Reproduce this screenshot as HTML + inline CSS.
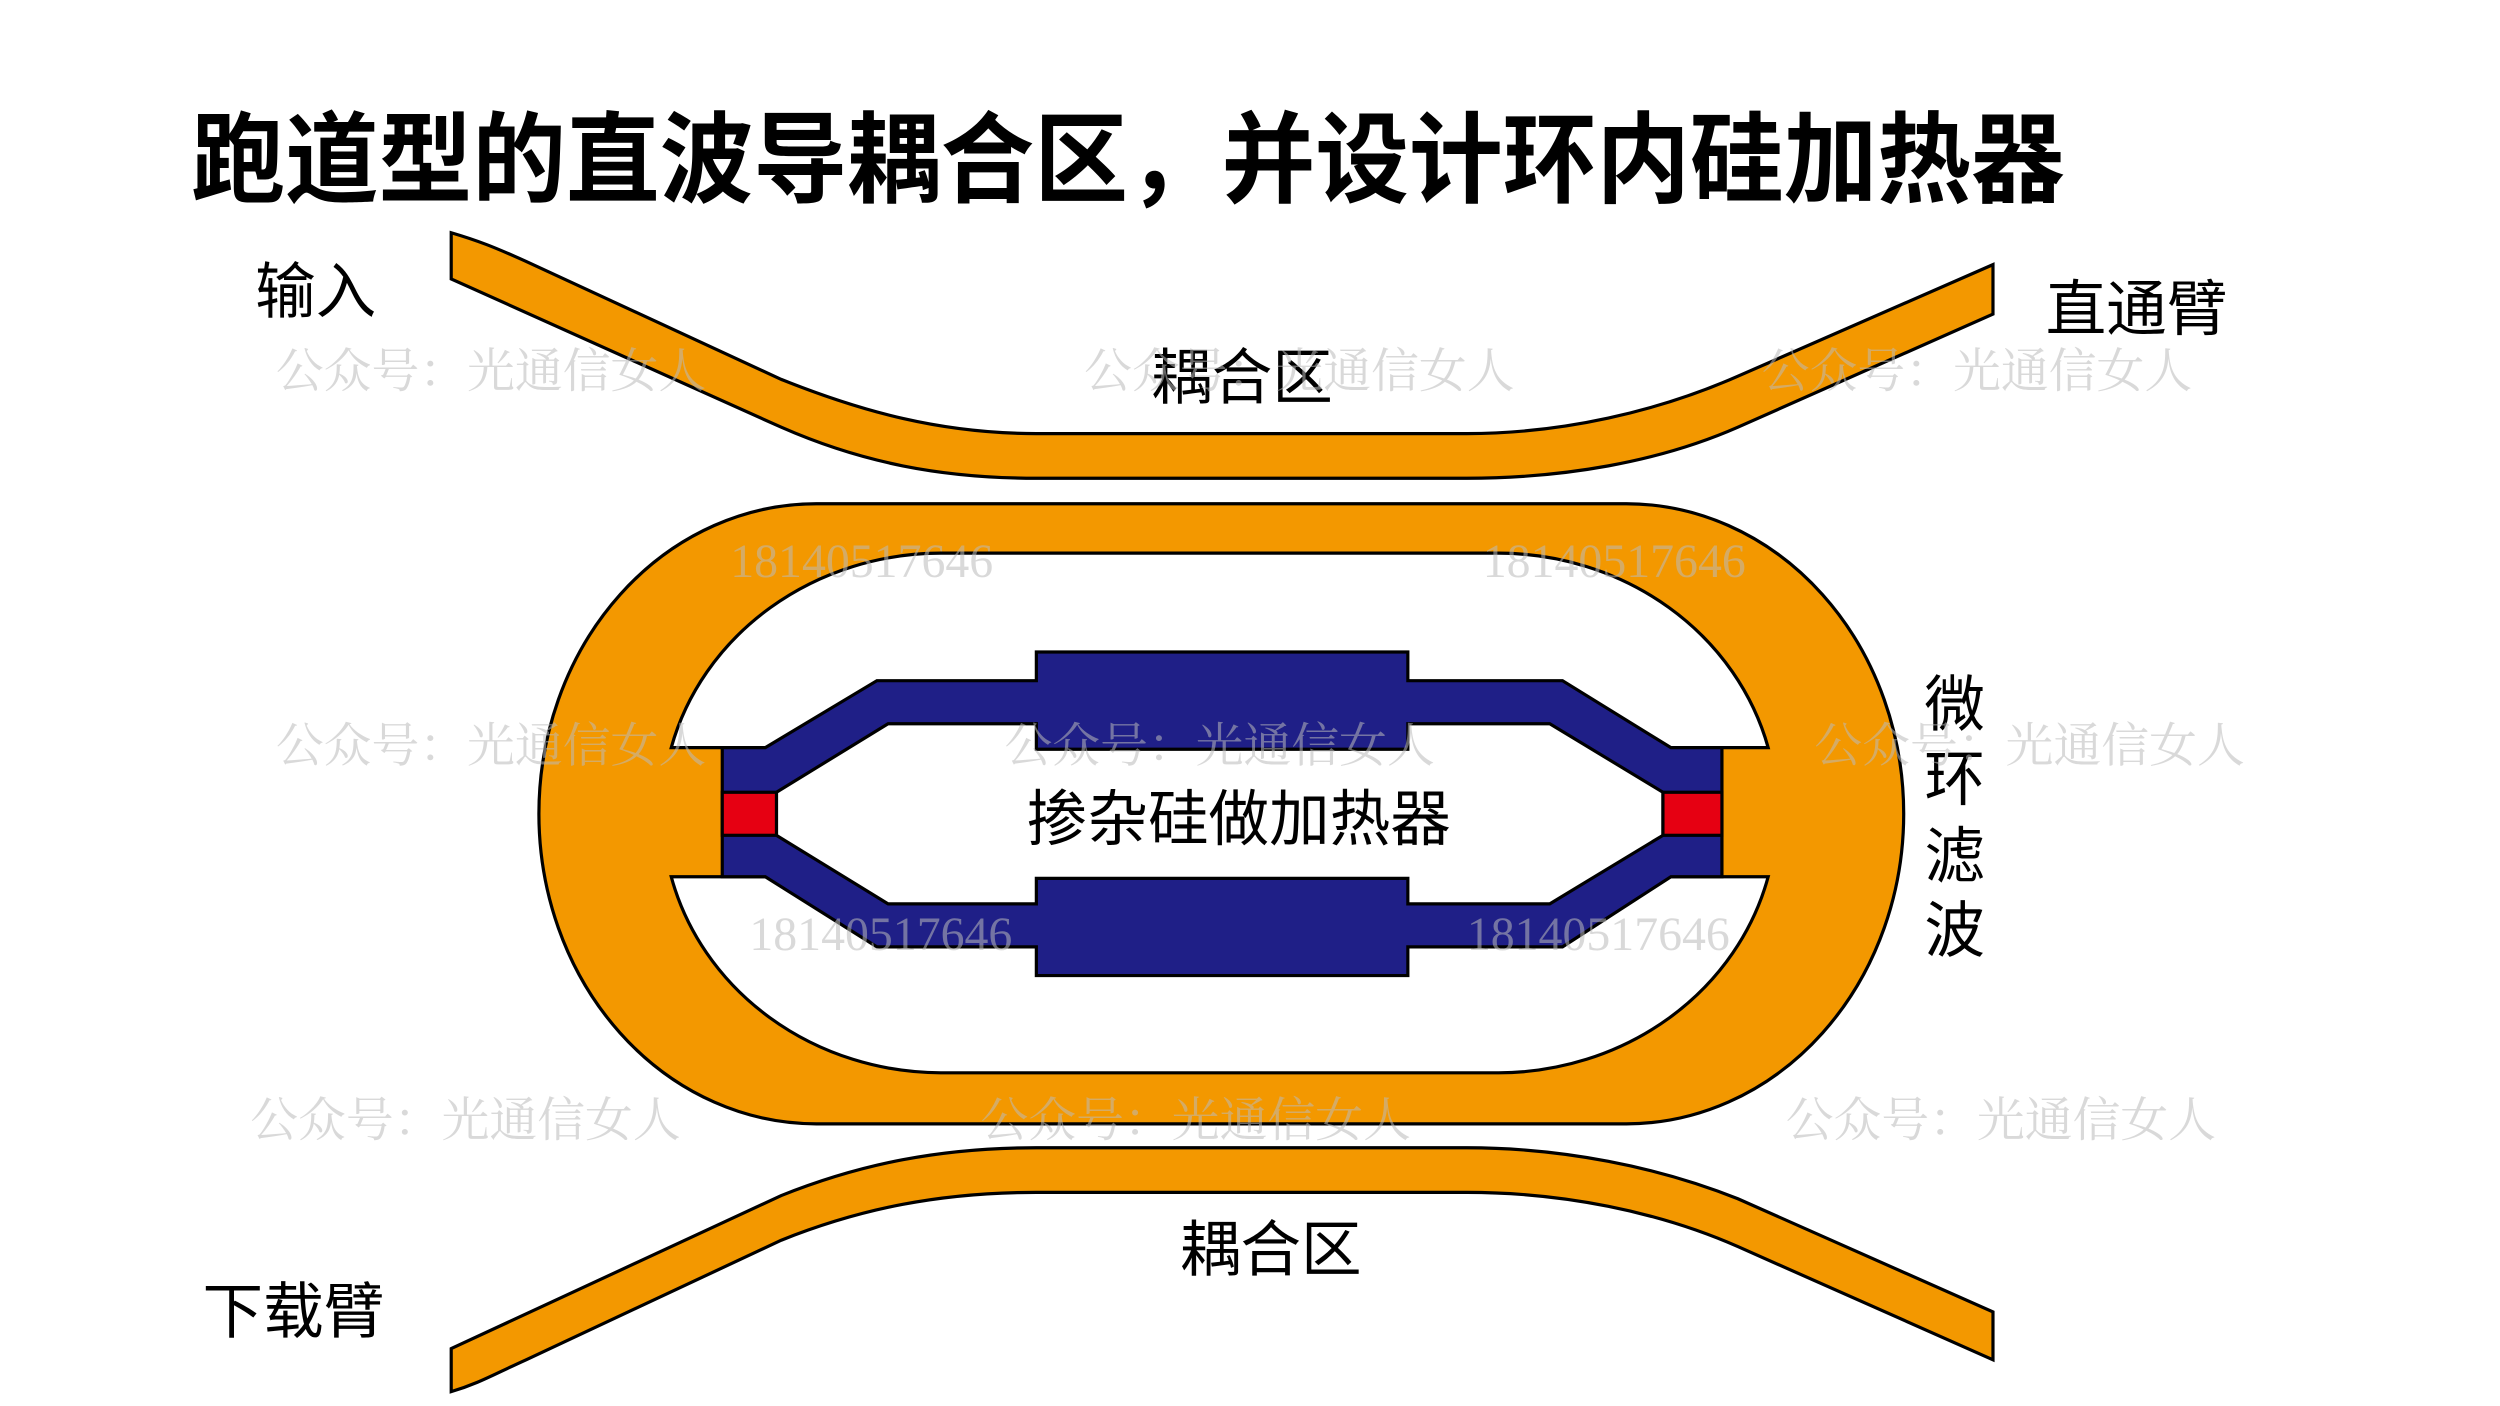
<!DOCTYPE html>
<html><head><meta charset="utf-8"><style>
html,body{margin:0;padding:0;background:#fff;}
svg{display:block;}
text{font-family:"Liberation Sans","Noto Sans CJK SC",sans-serif;}
.wm{font-family:"Liberation Serif","Noto Serif CJK SC",serif;fill:#bbb;opacity:0.55;font-size:30px;}
</style></head><body>
<svg width="2500" height="1406" viewBox="0 0 1568 882" preserveAspectRatio="none" xmlns="http://www.w3.org/2000/svg">
<rect width="1568" height="882" fill="#fff"/>
<text x="120" y="122" font-size="62" font-weight="bold" fill="#000" textLength="1175" lengthAdjust="spacingAndGlyphs">跑道型的直波导耦合区，并设计环内硅加热器</text>

<path d="M283,146 C300,151 310,155 330,164 L490,238 C540,258 590,272 650,272 L920,272 C980,272 1040,258 1090,236 L1250,166 L1250,197 L1090,268 C1040,290 980,300 920,300 L650,300 C590,300 540,290 490,268 L283,175 Z" fill="#F39800" stroke="#000" stroke-width="2"/>
<path d="M283,846 L490,750 C540,730 590,720 650,720 L920,720 C980,720 1040,732 1090,752 L1250,823 L1250,853 L1090,782 C1040,760 980,748 920,748 L650,748 C590,748 540,758 490,778 L330,853 C310,862 300,868 283,873 Z" fill="#F39800" stroke="#000" stroke-width="2"/>

<path d="M512,316 L1020,316 A174,194.5 0 0 1 1020,705 L512,705 A174,194.5 0 0 1 512,316 Z" fill="#F39800" stroke="#000" stroke-width="2"/>
<path d="M421,469 A175,163 0 0 1 590,347 L940,347 A175,163 0 0 1 1109,469 Z" fill="#fff" stroke="#000" stroke-width="2"/>
<path d="M421,550 A175,163 0 0 0 590,673 L940,673 A175,163 0 0 0 1109,550 Z" fill="#fff" stroke="#000" stroke-width="2"/>

<path d="M453,469 L480,469 L550,427 L650,427 L650,409 L883,409 L883,427 L980,427 L1048,469 L1080,469 L1080,550 L1048,550 L980,594 L883,594 L883,612 L650,612 L650,594 L550,594 L480,550 L453,550 Z" fill="#1F1F87" stroke="#000" stroke-width="2"/>
<path d="M487,497 L557,454 L650,454 L650,470 L883,470 L883,454 L972,454 L1043,497 L1043,524 L972,567 L883,567 L883,551 L650,551 L650,567 L557,567 L487,524 Z" fill="#fff" stroke="#000" stroke-width="2"/>
<rect x="453" y="497" width="34" height="27" fill="#E60012" stroke="#000" stroke-width="2"/>
<rect x="1043" y="497" width="37" height="27" fill="#E60012" stroke="#000" stroke-width="2"/>

<g font-size="38" fill="#000">
<text x="160" y="196">输入</text>
<text x="1283" y="207">直通臂</text>
<text x="722" y="250">耦合区</text>
<text x="127" y="836">下载臂</text>
<text x="740" y="797">耦合区</text>
<text x="777" y="527" text-anchor="middle">掺杂硅做加热器</text>
<text x="1207" y="455">微</text>
<text x="1207" y="502">环</text>
<text x="1207" y="550">滤</text>
<text x="1207" y="597">波</text>
</g>

<text class="wm" x="173" y="243">公众号：光通信女人</text>
<text class="wm" x="680" y="243">公众号：光通信女人</text>
<text class="wm" x="1105" y="243">公众号：光通信女人</text>
<text class="wm" x="173" y="478">公众号：光通信女人</text>
<text class="wm" x="630" y="478">公众号：光通信女人</text>
<text class="wm" x="1138" y="478">公众号：光通信女人</text>
<text class="wm" x="157" y="713">公众号：光通信女人</text>
<text class="wm" x="615" y="713">公众号：光通信女人</text>
<text class="wm" x="1120" y="713">公众号：光通信女人</text>
<text class="wm" x="458" y="362">18140517646</text>
<text class="wm" x="930" y="362">18140517646</text>
<text class="wm" x="470" y="596">18140517646</text>
<text class="wm" x="920" y="596">18140517646</text>
</svg>
</body></html>
